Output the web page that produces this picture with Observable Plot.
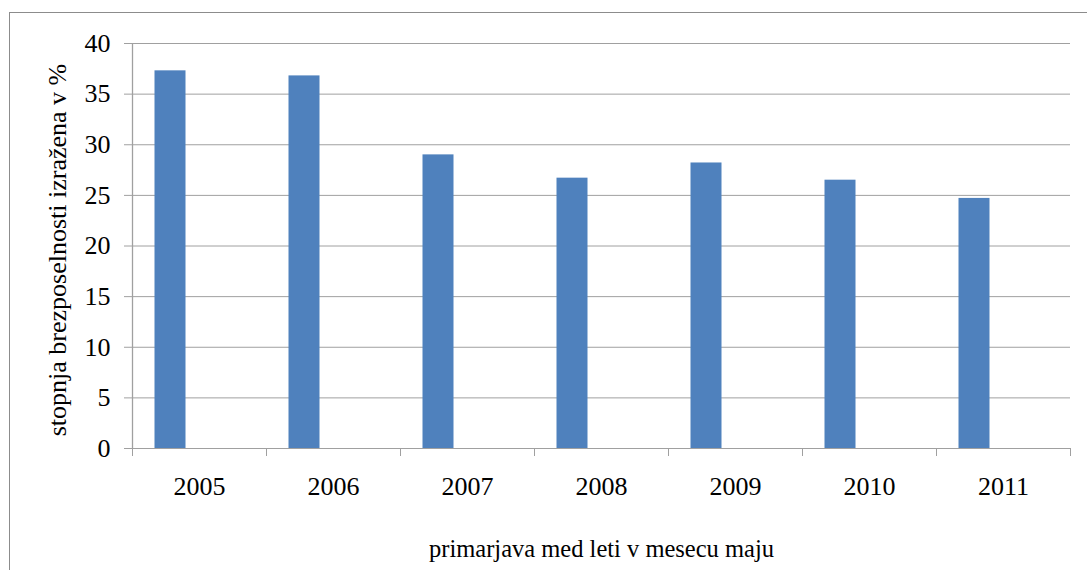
<!DOCTYPE html>
<html>
<head>
<meta charset="utf-8">
<script src="https://cdn.jsdelivr.net/npm/d3@7"></script>
<script src="https://cdn.jsdelivr.net/npm/@observablehq/plot@0.6"></script>
<style>
  html, body { margin: 0; padding: 0; background: #fff; overflow: hidden; }
  #wrap { position: relative; width: 1087px; height: 570px; }
  #frame { position: absolute; left: 9px; top: 12px; width: 2000px; height: 2000px;
           border-left: 1px solid #8c8c8c; border-top: 1px solid #8c8c8c; }
  #chart { position: absolute; left: 0; top: 0; }
  #chart svg, #chart svg text { font-family: "Liberation Serif", "Times New Roman", serif !important; }
</style>
</head>
<body>
<div id="wrap"><div id="frame"></div><div id="chart"></div></div>
<script>
const years = ["2005", "2006", "2007", "2008", "2009", "2010", "2011"];
const values = [37.3, 36.8, 29.0, 26.7, 28.2, 26.5, 24.7];
const yTicks = [0, 5, 10, 15, 20, 25, 30, 35, 40];
const yLabel = "stopnja brezposelnosti izražena v %";
const xLabel = "primarjava med leti v mesecu maju";

const data = years.map((year, i) => ({i, year, value: values[i]}));
const grid = "#a0a0a0";

const chart = Plot.plot({
  width: 1087,
  height: 570,
  marginLeft: 132,
  marginRight: 17,
  marginTop: 43,
  marginBottom: 122,
  style: {fontSize: "26px", color: "#000", background: "transparent"},
  x: {domain: [0, years.length], axis: null},
  y: {domain: [0, 40], axis: null},
  marks: [
    Plot.ruleY(yTicks, {stroke: grid, strokeWidth: 1}),
    Plot.rectY(data, {x1: "i", x2: d => d.i + 1, y: "value", fill: "#4F81BD", insetLeft: 22.5, insetRight: 80.5}),
    Plot.ruleX([0], {stroke: grid, strokeWidth: 1.3}),
    Plot.axisY({ticks: yTicks, tickSize: 8, tickPadding: 14, stroke: grid, fill: "#000", fontSize: 26, label: null}),
    Plot.axisX({ticks: d3.range(years.length + 1), tickSize: 8, tickFormat: () => "", stroke: grid, label: null}),
    Plot.axisX({ticks: years.map((y, i) => i + 0.5), tickSize: 0, tickPadding: 28, tickFormat: t => years[Math.floor(t)], fill: "#000", fontSize: 26, label: null}),
    Plot.text([yLabel], {frameAnchor: "left", textAnchor: "middle", rotate: -90, dx: -75, dy: 4, fontSize: 26, fill: "#000"}),
    Plot.text([xLabel], {frameAnchor: "bottom", textAnchor: "middle", dy: 108, fontSize: 24.5, fill: "#000"})
  ]
});
document.getElementById("chart").appendChild(chart);
</script>
</body>
</html>
